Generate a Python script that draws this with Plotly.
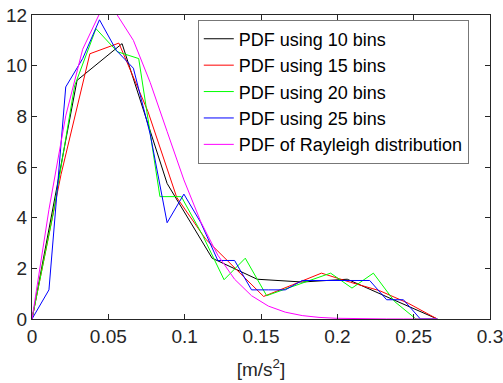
import plotly.graph_objects as go

# ---- data ----
x_10 = [0, 0.0295, 0.059, 0.0885, 0.118, 0.1475, 0.177, 0.2065, 0.236, 0.2655]
y_10 = [0, 9.42, 10.87, 5.35, 2.4, 1.57, 1.46, 1.57, 0.78, 0]

x_15 = [0, 0.019, 0.0379, 0.0569, 0.0759, 0.0948, 0.1138, 0.1328, 0.1517, 0.1707,
        0.1896, 0.2086, 0.2276, 0.2465, 0.2655]
y_15 = [0, 5.7, 10.47, 10.89, 8.2, 4.8, 3.15, 2.0, 0.89, 1.35, 1.81, 1.45, 1.12, 0.62, 0]

x_20 = [0, 0.014, 0.0279, 0.0419, 0.0559, 0.0699, 0.0838, 0.0978, 0.1118, 0.1258,
        0.1397, 0.1537, 0.1677, 0.1816, 0.1956, 0.2096, 0.2236, 0.2375, 0.2515, 0.2655]
y_20 = [0, 4.2, 9.2, 11.46, 10.55, 10.28, 4.83, 4.83, 3.3, 1.55,
        2.4, 0.92, 1.22, 1.5, 1.81, 1.22, 1.81, 0.69, 0, 0]

x_25 = [0, 0.0111, 0.0221, 0.0332, 0.0442, 0.0553, 0.0664, 0.0774, 0.0885, 0.0995,
        0.1106, 0.1217, 0.1327, 0.1438, 0.1548, 0.1659, 0.177, 0.188, 0.1991, 0.2101,
        0.2212, 0.2323, 0.2433, 0.2544, 0.2655]
y_25 = [0, 1.15, 9.16, 10.28, 11.81, 10.6, 9.9, 7.3, 3.8, 4.93,
        3.8, 2.31, 2.31, 1.15, 1.15, 1.15, 1.52, 1.52, 1.52, 1.52,
        1.52, 0.76, 0.76, 0, 0]

x_ray = x_25
y_ray = [0, 4.32, 8.02, 10.65, 12.05, 12.05, 11.0, 9.34, 7.40, 5.49,
         3.83, 2.52, 1.57, 0.92, 0.51, 0.27, 0.135, 0.064, 0.029, 0.012,
         0.005, 0.002, 0.001, 0, 0]

names = ["PDF using 10 bins", "PDF using 15 bins", "PDF using 20 bins",
         "PDF using 25 bins", "PDF of Rayleigh distribution"]
colors = ["#000000", "#ff0000", "#00ff00", "#0000ff", "#ff00ff"]

x_ticks = [0, 0.05, 0.1, 0.15, 0.2, 0.25, 0.3]
x_ticktext = ["0", "0.05", "0.1", "0.15", "0.2", "0.25", "0.3"]
y_ticks = [0, 2, 4, 6, 8, 10, 12]

series = [(x_10, y_10), (x_15, y_15), (x_20, y_20), (x_25, y_25), (x_ray, y_ray)]

FONT = "Arial, Liberation Sans, sans-serif"
AX = "#262626"
FS = 19

fig = go.Figure()
for (xs, ys), nm, c in zip(series, names, colors):
    fig.add_trace(go.Scatter(x=xs, y=ys, mode="lines", name=nm,
                             line=dict(color=c, width=1)))

fig.update_layout(
    width=503, height=383,
    margin=dict(l=31.5, r=13, t=14.5, b=63.5),
    paper_bgcolor="white", plot_bgcolor="white",
    font=dict(family=FONT, size=FS, color=AX),
    showlegend=True,
    legend=dict(x=0.362, y=0.985, xanchor="left", yanchor="top",
                bgcolor="white", bordercolor="#777777", borderwidth=1,
                font=dict(family=FONT, size=18, color="#000000"),
                tracegroupgap=0),
)
fig.update_xaxes(range=[0, 0.3], tickvals=x_ticks, ticktext=x_ticktext,
                 automargin=False, ticklabeloverflow="allow",
                 showgrid=False, zeroline=False, showline=True, linecolor=AX,
                 linewidth=1, mirror="ticks", ticks="inside", ticklen=5,
                 tickcolor=AX, tickfont=dict(size=FS, color=AX),
                 title=dict(text="[m/s<sup>2</sup>]", font=dict(size=FS, color=AX),
                            standoff=16))
fig.update_yaxes(range=[0, 12], tickvals=y_ticks, automargin=False,
                 ticklabeloverflow="allow",
                 showgrid=False, zeroline=False, showline=True, linecolor=AX,
                 linewidth=1, mirror="ticks", ticks="inside", ticklen=5,
                 tickcolor=AX, tickfont=dict(size=FS, color=AX))

fig.write_html("out.html")
